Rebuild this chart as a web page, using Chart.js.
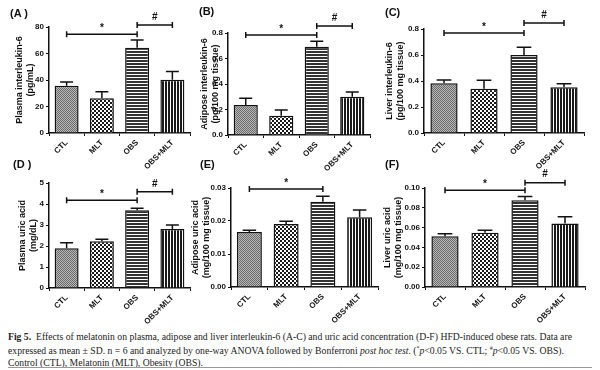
<!DOCTYPE html>
<html>
<head>
<meta charset="utf-8">
<script src="https://cdn.jsdelivr.net/npm/chart.js@4/dist/chart.umd.min.js"></script>
<style>
  body { margin: 0; background: #fff; }
  #page { position: relative; width: 600px; height: 370px; overflow: hidden; font-family: "Liberation Sans", Arial, sans-serif; }
  #page canvas { position: absolute; }
  .tag { position: absolute; font-weight: bold; font-size: 11px; color: #111; }
  .cap { position: absolute; left: 8px; top: 331px; font-family: "Liberation Serif", "DejaVu Serif", serif; font-size: 9.7px; line-height: 11.8px; color: #222; white-space: nowrap; }
  .cap sup { font-size: 6px; }
  .rule { position: absolute; left: 8px; top: 367px; width: 584px; height: 1px; background: #999; }
</style>
</head>
<body>
<div id="page">
  <canvas id="cA" width="195" height="172" style="left:0px;top:0px"></canvas>
  <canvas id="cB" width="195" height="172" style="left:188px;top:0px"></canvas>
  <canvas id="cC" width="215" height="172" style="left:380px;top:0px"></canvas>
  <canvas id="cD" width="195" height="165" style="left:0px;top:160px"></canvas>
  <canvas id="cE" width="195" height="165" style="left:188px;top:160px"></canvas>
  <canvas id="cF" width="215" height="165" style="left:380px;top:160px"></canvas>

  <div class="tag" style="left:10px;top:7px">(A )</div>
  <div class="tag" style="left:199px;top:5px">(B)</div>
  <div class="tag" style="left:385px;top:6px">(C)</div>
  <div class="tag" style="left:13px;top:158px">(D )</div>
  <div class="tag" style="left:200px;top:158px">(E)</div>
  <div class="tag" style="left:385px;top:158px">(F)</div>

  <div class="cap"><b>Fig 5.</b>&nbsp; Effects of melatonin on plasma, adipose and liver interleukin-6 (A-C) and uric acid concentration (D-F) HFD-induced obese rats. Data are<br>
  expressed as mean ± SD. n = 6 and analyzed by one-way ANOVA followed by Bonferroni <i>post hoc test</i>. (<sup>*</sup><i>p</i>&lt;0.05 VS. CTL; <sup>#</sup><i>p</i>&lt;0.05 VS. OBS).<br>
  Control (CTL), Melatonin (MLT), Obesity (OBS).</div>
  <div class="rule"></div>
</div>

<script>
const groups = ['CTL', 'MLT', 'OBS', 'OBS+MLT'];

// (A) plasma interleukin-6, pg/mL
const plasmaIl6 = [35.7, 26.2, 64.4, 40.2];
const plasmaIl6Sd = [2.8, 5.0, 5.8, 6.3];
const plasmaIl6Ticks = [0, 20, 40, 60, 80];
const plasmaIl6Sig = [74.5, 81.5];

// (B) adipose interleukin-6, pg/100 mg tissue
const adiposeIl6 = [0.235, 0.151, 0.693, 0.300];
const adiposeIl6Sd = [0.053, 0.045, 0.042, 0.037];
const adiposeIl6Ticks = [0, 0.2, 0.4, 0.6, 0.8];
const adiposeIl6Sig = [0.784, 0.855];

// (C) liver interleukin-6, pg/100 mg tissue
const liverIl6 = [0.382, 0.341, 0.600, 0.351];
const liverIl6Sd = [0.026, 0.064, 0.059, 0.028];
const liverIl6Ticks = [0, 0.2, 0.4, 0.6, 0.8];
const liverIl6Sig = [0.769, 0.846];

// (D) plasma uric acid, mg/dL
const plasmaUa = [1.89, 2.23, 3.70, 2.81];
const plasmaUaSd = [0.26, 0.09, 0.10, 0.19];
const plasmaUaTicks = [0, 1, 2, 3, 4, 5];
const plasmaUaSig = [4.18, 4.58];

// (E) adipose uric acid, mg/100 mg tissue
const adiposeUa = [0.0167, 0.0191, 0.0258, 0.0211];
const adiposeUaSd = [0.0005, 0.0008, 0.0017, 0.0022];
const adiposeUaTicks = [0, 0.01, 0.02, 0.03];
const adiposeUaSig = [0.0297, null];

// (F) liver uric acid, mg/100 mg tissue
const liverUa = [0.0512, 0.0548, 0.0876, 0.0642];
const liverUaSd = [0.0026, 0.0024, 0.0038, 0.0067];
const liverUaTicks = [0, 0.02, 0.04, 0.06, 0.08, 0.10];
const liverUaSig = [0.0977, 0.1054];

// bar fills, like the Prism hatch styles
function makePattern(w, h, draw) {
  const c = document.createElement('canvas');
  c.width = w; c.height = h;
  const g = c.getContext('2d');
  g.fillStyle = '#fff';
  g.fillRect(0, 0, w, h);
  draw(g);
  return c.getContext('2d').createPattern(c, 'repeat');
}

const fills = [
  makePattern(2, 2, g => { g.fillStyle = '#6a6a6a'; g.fillRect(0, 0, 1, 1); g.fillRect(1, 1, 1, 1); g.fillStyle = '#b8b8b8'; g.fillRect(1, 0, 1, 1); g.fillRect(0, 1, 1, 1); }),
  makePattern(4, 4, g => { g.fillStyle = '#1a1a1a'; g.fillRect(0, 0, 2, 2); g.fillRect(2, 2, 2, 2); }),
  makePattern(3, 3, g => { g.fillStyle = '#333'; g.fillRect(0, 0, 3, 2); }),
  makePattern(3, 3, g => { g.fillStyle = '#1a1a1a'; g.fillRect(0, 0, 2, 3); })
];

function drawExtras(p) {
  return {
    id: 'extras',
    afterDatasetsDraw(chart) {
      const ctx = chart.ctx;
      const xs = chart.scales.x, ys = chart.scales.y;
      const meta = chart.getDatasetMeta(0);
      ctx.save();
      ctx.strokeStyle = '#111';
      ctx.fillStyle = '#111';
      ctx.lineWidth = 1.5;
      // error bars (upper half only)
      p.sd.forEach((sd, i) => {
        const bar = meta.data[i];
        const top = ys.getPixelForValue(p.values[i] + sd);
        const cap = bar.width * 0.27;
        ctx.beginPath();
        ctx.moveTo(bar.x, bar.y);
        ctx.lineTo(bar.x, top);
        ctx.moveTo(bar.x - cap, top);
        ctx.lineTo(bar.x + cap, top);
        ctx.stroke();
      });
      // significance brackets
      const marks = [[0, 2, '*'], [2, 3, '#']];
      marks.forEach((m, k) => {
        const at = p.sig[k];
        if (at === null) return;
        const x1 = xs.getPixelForValue(m[0]);
        const x2 = xs.getPixelForValue(m[1]);
        const yy = ys.getPixelForValue(at);
        ctx.beginPath();
        ctx.moveTo(x1, yy); ctx.lineTo(x2, yy);
        ctx.moveTo(x1, yy - 3); ctx.lineTo(x1, yy + 3);
        ctx.moveTo(x2, yy - 3); ctx.lineTo(x2, yy + 3);
        ctx.stroke();
        ctx.font = 'bold 10px "Liberation Sans", Arial, sans-serif';
        ctx.textAlign = 'center';
        ctx.textBaseline = 'bottom';
        ctx.fillText(m[2], (x1 + x2) / 2, yy - (m[2] === '*' ? 1 : 3));
      });
      ctx.restore();
    }
  };
}

const panels = [
  { id: 'cA', values: plasmaIl6, sd: plasmaIl6Sd, ticks: plasmaIl6Ticks, sig: plasmaIl6Sig, dec: 0,
    title: ['Plasma interleukin-6', '(pg/mL)'], yWidth: 49, top: 27, bottom: 133, right: 5, titlePad: 14 },
  { id: 'cB', values: adiposeIl6, sd: adiposeIl6Sd, ticks: adiposeIl6Ticks, sig: adiposeIl6Sig, dec: 1,
    title: ['Adipose interleukin-6', '(pg/100 mg tissue)'], yWidth: 40, top: 33, bottom: 135, right: 13, titlePad: 11 },
  { id: 'cC', values: liverIl6, sd: liverIl6Sd, ticks: liverIl6Ticks, sig: liverIl6Sig, dec: 1,
    title: ['Liver interleukin-6', '(pg/100 mg tissue)'], yWidth: 44, top: 29, bottom: 133, right: 11, titlePad: 4 },
  { id: 'cD', values: plasmaUa, sd: plasmaUaSd, ticks: plasmaUaTicks, sig: plasmaUaSig, dec: 0,
    title: ['Plasma uric acid', '(mg/dL)'], yWidth: 49, top: 23, bottom: 128, right: 5, titlePad: 17 },
  { id: 'cE', values: adiposeUa, sd: adiposeUaSd, ticks: adiposeUaTicks, sig: adiposeUaSig, dec: 2,
    title: ['Adipose uric acid', '(mg/100 mg tissue)'], yWidth: 43, top: 28, bottom: 127, right: 5, titlePad: 2 },
  { id: 'cF', values: liverUa, sd: liverUaSd, ticks: liverUaTicks, sig: liverUaSig, dec: 2,
    title: ['Liver uric acid', '(mg/100 mg tissue)'], yWidth: 45, top: 28, bottom: 127, right: 10, titlePad: 2 }
];

Chart.defaults.font.family = '"Liberation Sans", Arial, sans-serif';
Chart.defaults.color = '#111';

panels.forEach(p => {
  const canvas = document.getElementById(p.id);
  const xHeight = canvas.height - p.bottom;
  new Chart(canvas.getContext('2d'), {
    type: 'bar',
    data: {
      labels: groups,
      datasets: [{
        data: p.values,
        backgroundColor: fills,
        borderColor: '#111',
        borderWidth: 1.5,
        barPercentage: 0.68,
        categoryPercentage: 1
      }]
    },
    options: {
      responsive: false,
      animation: false,
      devicePixelRatio: 1,
      layout: { padding: { top: p.top, right: p.right, left: 0, bottom: 0 } },
      plugins: { legend: { display: false }, tooltip: { enabled: false } },
      scales: {
        x: {
          grid: { display: true, drawOnChartArea: false, color: '#111', tickLength: 3, lineWidth: 1 },
          border: { display: true, color: '#111', width: 1.5 },
          ticks: { minRotation: 45, maxRotation: 45, padding: 2, font: { size: 8, weight: 'bold' } },
          afterFit(scale) { scale.height = xHeight; }
        },
        y: {
          min: 0,
          max: p.ticks[p.ticks.length - 1],
          grid: { display: true, drawOnChartArea: false, color: '#111', tickLength: 3, lineWidth: 1 },
          border: { display: true, color: '#111', width: 1.5 },
          ticks: { padding: 2, font: { size: 8, weight: 'bold' }, callback: v => Number(v).toFixed(p.dec) },
          afterBuildTicks(scale) { scale.ticks = p.ticks.map(v => ({ value: v })); },
          title: { display: true, text: p.title, font: { size: 9, weight: 'bold' }, padding: { top: p.titlePad, bottom: 0 } },
          afterFit(scale) { scale.width = p.yWidth; }
        }
      }
    },
    plugins: [drawExtras(p)]
  });
});
</script>
</body>
</html>
